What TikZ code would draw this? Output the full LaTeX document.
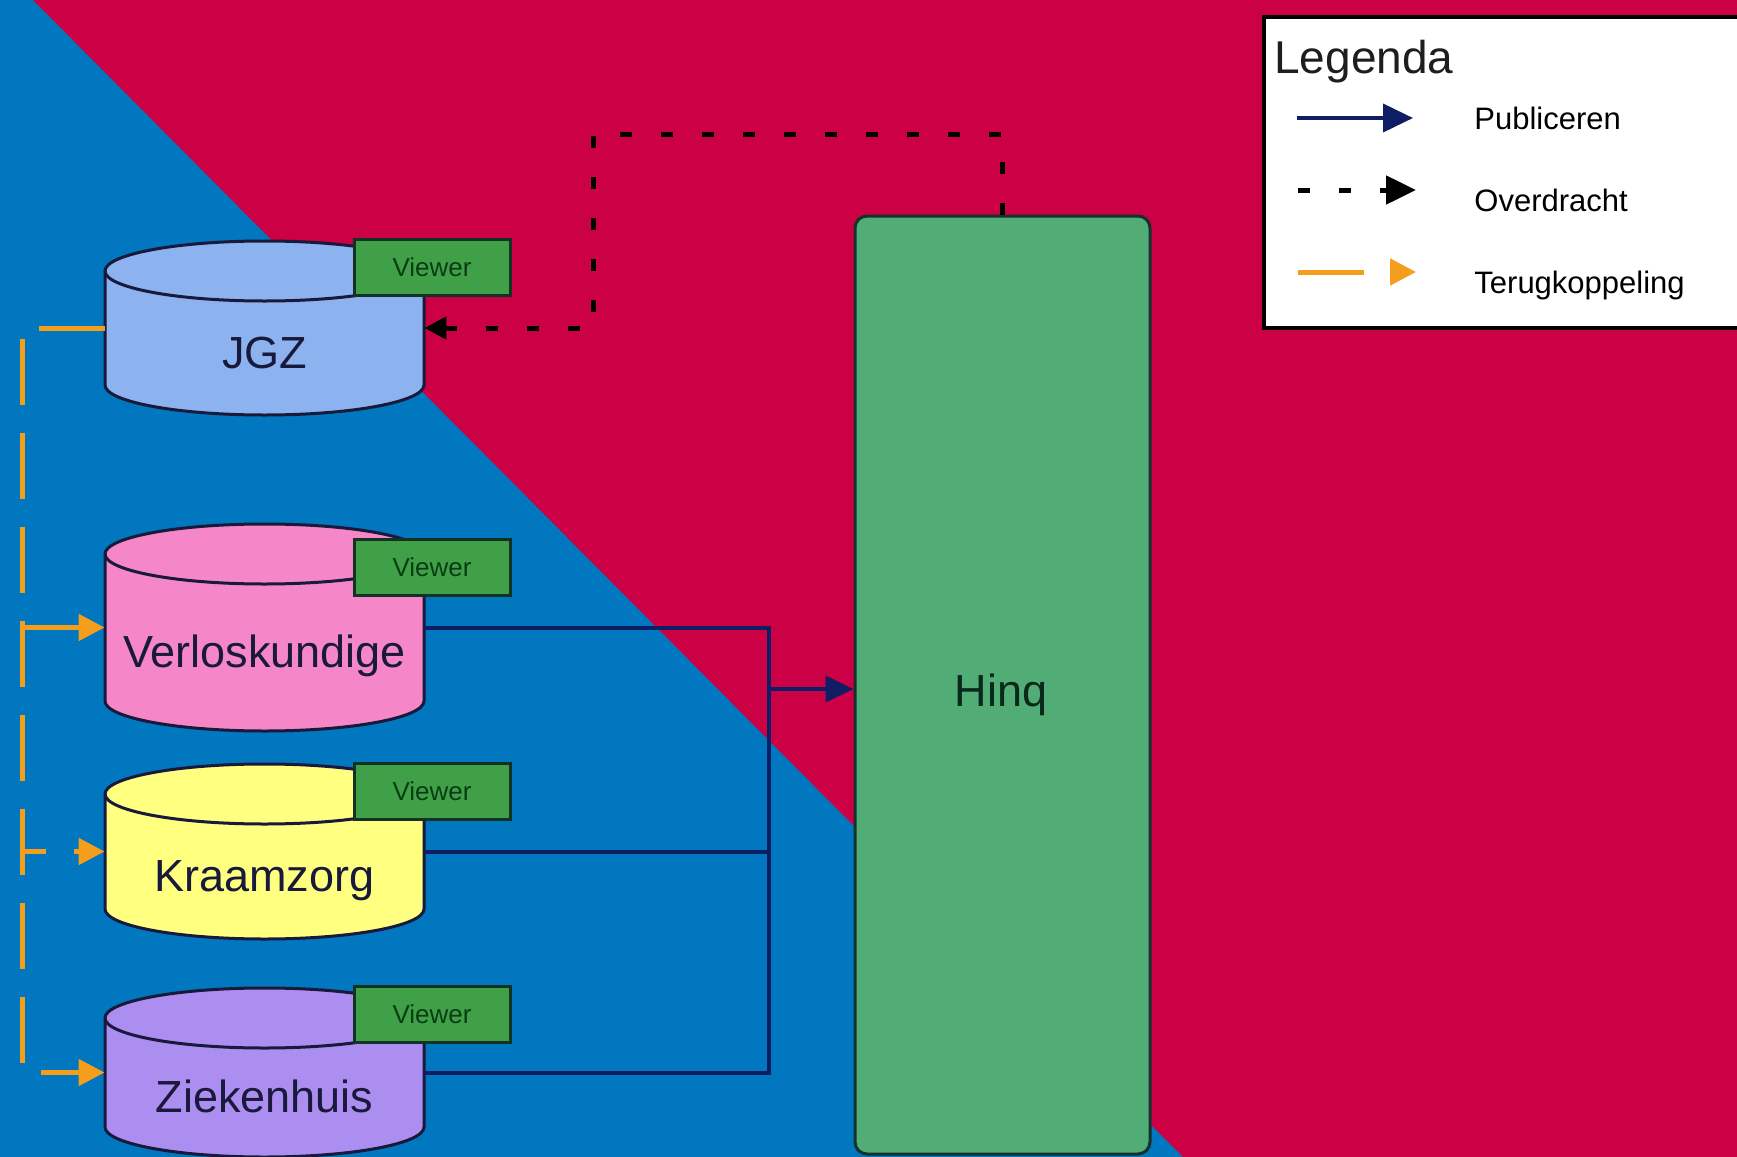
\documentclass[tikz,border=0pt]{standalone}
\usepackage{fontspec}
\setmainfont{Liberation Sans}
\usetikzlibrary{arrows.meta}

\definecolor{bgblue}{RGB}{0,119,190}
\definecolor{bgred}{RGB}{204,0,68}
\definecolor{jgzblue}{RGB}{140,178,240}
\definecolor{verlospink}{RGB}{245,135,200}
\definecolor{kraamyellow}{RGB}{255,255,128}
\definecolor{ziekenpurple}{RGB}{172,142,240}
\definecolor{hinqgreen}{RGB}{82,172,118}
\definecolor{viewergreen}{RGB}{64,160,72}
\definecolor{pubnavy}{RGB}{15,30,100}
\definecolor{fborange}{RGB}{245,158,27}
\definecolor{dbline}{RGB}{25,25,60}

\begin{document}
\begin{tikzpicture}[x=0.5pt,y=0.5pt,yscale=-1,
  dbspot/.style={rectangle, inner sep=0pt, minimum width=159.5pt},
  dbtext/.style={anchor=base, inner sep=0pt, text=dbline, font=\fontsize{22.5pt}{27pt}\selectfont},
  viewer/.style={rectangle, fill=viewergreen, draw={rgb,255:red,20;green,50;blue,35}, line width=1.5pt,
    minimum width=78pt, minimum height=28pt, inner sep=0pt, text={rgb,255:red,10;green,60;blue,20},
    font=\fontsize{13pt}{15pt}\selectfont},
  hinqbox/.style={rectangle, rounded corners=6pt, fill=hinqgreen, draw={rgb,255:red,20;green,50;blue,45},
    line width=1.5pt, minimum width=147.5pt, minimum height=469pt, inner sep=0pt},
  legtext/.style={anchor=base west, inner sep=0pt, font=\fontsize{15.5pt}{18pt}\selectfont},
  publine/.style={draw=pubnavy, line width=2pt},
  handover/.style={draw=black, line width=2.5pt, dash pattern=on 6pt off 14.5pt},
  feedback/.style={draw=fborange, line width=2.5pt, dash pattern=on 33pt off 14pt}]

\useasboundingbox (0,0) rectangle (1737,1157);
\clip (0,0) rectangle (1737,1157);

% Background
\fill[bgblue] (0,0) rectangle (1737,1157);
\fill[bgred] (33,0) -- (1737,0) -- (1737,1157) -- (1183,1157) -- cycle;

% Legend
\draw[fill=white, line width=2pt] (1264,17) rectangle (1760,328);
\node[anchor=base west, inner sep=0pt, text={rgb,255:red,30;green,30;blue,30},
  font=\fontsize{23pt}{27pt}\selectfont] (legtitle) at (1274,73) {Legenda};
\coordinate (pubA) at (1297,118);
\coordinate (pubB) at (1413,118);
\coordinate (hoA) at (1298,190);
\coordinate (hoB) at (1416,190);
\coordinate (fbA) at (1298,272);
\coordinate (fbB) at (1416,272);
\draw[publine, -{Triangle[length=15pt,width=14pt]}] (pubA) -- (pubB);
\draw[handover, -{Triangle[length=15pt,width=14pt]}] (hoA) -- (hoB);
\draw[feedback, -{Triangle[length=13pt,width=13pt]}] (fbA) -- (fbB);
\node[legtext] (legpub) at (1474,129) {Publiceren};
\node[legtext] (legho) at (1474,211) {Overdracht};
\node[legtext] (legfb) at (1474,293) {Terugkoppeling};

% Hinq
\node[hinqbox] (hinq) at (1002.5,685) {};
\node[dbtext, text={rgb,255:red,10;green,40;blue,25}] (hinqtext) at (1001,706) {Hinq};

% Databases with viewers
\foreach \name/\top/\bot/\col/\lab/\vy in {jgz/241/415/jgzblue/JGZ/267,
    verlos/524/731/verlospink/Verloskundige/567,
    kraam/764/939/kraamyellow/Kraamzorg/791,
    zieken/988/1157/ziekenpurple/Ziekenhuis/1014} {
  \filldraw[fill=\col, draw=dbline, line width=1.5pt]
    (105,{\top+30}) -- (105,{\bot-30})
    arc[start angle=180, end angle=0, x radius=159.5, y radius=30]
    -- (424,{\top+30})
    arc[start angle=0, end angle=-180, x radius=159.5, y radius=30] -- cycle;
  \draw[dbline, line width=1.5pt] (105,{\top+30})
    arc[start angle=180, end angle=0, x radius=159.5, y radius=30];
  \node[dbspot, minimum height={(\bot-\top)*0.5pt}] (\name) at (264.5,{(\top+\bot)/2}) {};
  \node[dbtext] (\name-lbl) at (264.5,{(\top+\bot)/2+40}) {\lab};
  \node[viewer] (\name-view) at (432,\vy) {Viewer};
}

% Publiceren
\coordinate (pubrail) at (769,689);
\draw[publine] (verlos.east) -| (pubrail);
\draw[publine] (kraam.east) -| (pubrail);
\draw[publine] (zieken.east) -| (pubrail);
\draw[publine, -{Triangle[length=14pt,width=13pt]}] (pubrail) -- (pubrail -| hinq.west);

% Overdracht
\coordinate (hotop) at (1002.5,134);
\coordinate (holeft) at (593,134);
\draw[handover, -{Triangle[length=11pt,width=11pt]}] (hinq.north) -- (hotop) -- (holeft) |- (jgz.east);

% Terugkoppeling
\coordinate (fbrail) at (22,328);
\draw[feedback, -{Triangle[length=13pt,width=13pt]}] (jgz.west) -- (fbrail) |- (verlos.west);
\draw[feedback, -{Triangle[length=13pt,width=13pt]}] (jgz.west) -- (fbrail) |- (kraam.west);
\draw[feedback, -{Triangle[length=13pt,width=13pt]}] (jgz.west) -- (fbrail) |- (zieken.west);

\end{tikzpicture}
\end{document}
